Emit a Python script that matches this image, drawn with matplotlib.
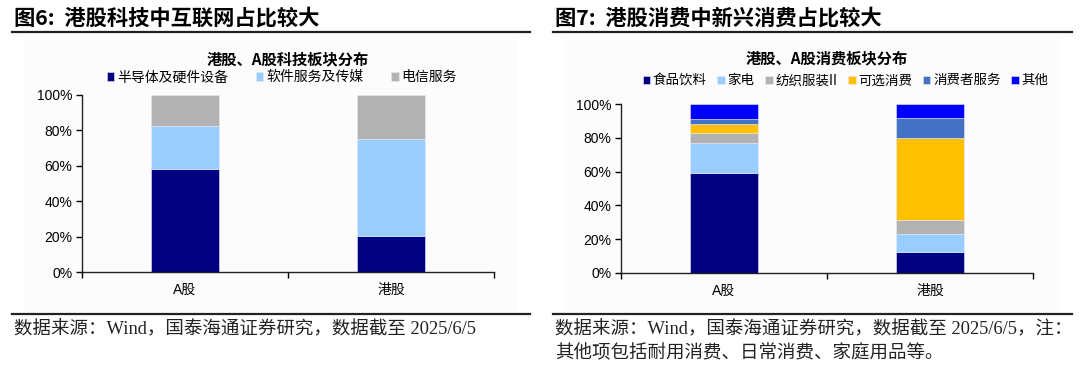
import numpy as np
import matplotlib
matplotlib.use("Agg")
import matplotlib.pyplot as plt
from matplotlib.lines import Line2D
from matplotlib.patches import Rectangle

plt.rcParams['font.family'] = ['Noto Sans CJK SC', 'DejaVu Sans']

# ---- data ----
categories = ["A股", "港股"]

tech_labels = ["半导体及硬件设备", "软件服务及传媒", "电信服务"]
tech_semi = [58.4, 20.5]
tech_soft = [24.1, 54.6]
tech_tele = [17.5, 24.9]
tech_colors = ["#000080", "#99CCFF", "#B2B2B2"]

cons_labels = ["食品饮料", "家电", "纺织服装II", "可选消费", "消费者服务", "其他"]
cons_food = [59.0, 12.6]
cons_appl = [18.2, 10.6]
cons_text = [5.9, 8.3]
cons_disc = [4.9, 48.2]
cons_serv = [3.1, 12.0]
cons_other = [8.9, 8.3]
cons_colors = ["#000080", "#99CCFF", "#B2B2B2", "#FFC000", "#4472C4", "#0000FF"]

W, H = 1080, 368
fig = plt.figure(figsize=(W / 100, H / 100), dpi=100)

def px_axes(l, t, r, b):
    return fig.add_axes([l / W, 1 - b / H, (r - l) / W, (b - t) / H])

def fx(x):
    return x / W

def fy(y):
    return 1 - y / H

LAT = ['Liberation Sans', 'Noto Sans CJK SC']
SERIF = ['Liberation Serif', 'Noto Sans CJK SC']

def stacked(ax, series, labels, colors, title, legend_pos, colspace, legsize):
    x = np.arange(len(categories))
    bottom = np.zeros(len(categories))
    for vals, lab, col in zip(series, labels, colors):
        ax.bar(x, vals, width=0.33, bottom=bottom, color=col, label=lab,
               edgecolor="#E8E8F8", linewidth=0.4)
        bottom += np.array(vals)
    ax.set_xlim(-0.5, 1.5)
    ax.set_ylim(0, 100)
    ax.set_yticks([0, 20, 40, 60, 80, 100])
    ax.set_yticklabels([f"{v}%" for v in [0, 20, 40, 60, 80, 100]], family=LAT, fontsize=10)
    ax.set_xticks(x)
    ax.set_xticklabels(categories, family=LAT, fontsize=10)
    ax.set_xticks([-0.5, 0.5, 1.5], minor=True)
    ax.tick_params(axis='x', which='major', length=0, pad=8)
    ax.tick_params(axis='x', which='minor', length=4, direction='out', width=1)
    ax.tick_params(axis='y', length=4, direction='out', width=1, pad=3)
    for s in ("top", "right"):
        ax.spines[s].set_visible(False)
    for s in ("left", "bottom"):
        ax.spines[s].set_linewidth(1.0)
        ax.spines[s].set_color("#222222")
    ax.set_facecolor("none")
    tx, ty, lx, ly = legend_pos
    ax.text(tx, ty, title, transform=ax.transAxes, ha="center", va="center",
            fontsize=11, fontweight="bold")
    ax.legend(loc="center", bbox_to_anchor=(lx, ly), ncol=len(labels), frameon=False,
              fontsize=legsize, handlelength=0.55, handleheight=0.55, handletextpad=0.2,
              columnspacing=colspace, borderaxespad=0)

# chart background panels (behind the axes)
for l, r in [(24, 518), (565, 1060)]:
    fig.patches.append(Rectangle((fx(l), fy(311)), (r - l) / W, (311 - 37) / H,
                                 transform=fig.transFigure, facecolor="#FCFCFC",
                                 edgecolor="none", zorder=-5))

ax1 = px_axes(82, 95, 494, 272)
stacked(ax1, [tech_semi, tech_soft, tech_tele], tech_labels, tech_colors,
        "港股、A股科技板块分布", (0.5, 1.20, 0.485, 1.10), 2.0, 10)

ax2 = px_axes(621, 104, 1033, 273)
stacked(ax2, [cons_food, cons_appl, cons_text, cons_disc, cons_serv, cons_other],
        cons_labels, cons_colors, "港股、A股消费板块分布", (0.5, 1.27, 0.545, 1.14), 0.8, 9.7)

# headings
fig.text(fx(14), fy(18), "图6:  港股科技中互联网占比较大", fontsize=15.3, fontweight="bold",
         ha="left", va="center")
fig.text(fx(555), fy(18), "图7:  港股消费中新兴消费占比较大", fontsize=15.3, fontweight="bold",
         ha="left", va="center")

# rules
for x0, x1 in [(12, 530), (553, 1072)]:
    fig.add_artist(Line2D([fx(x0), fx(x1)], [fy(32), fy(32)], color="#222222", lw=1.6))
    fig.add_artist(Line2D([fx(x0), fx(x1)], [fy(314), fy(314)], color="#222222", lw=1.6))

# footnotes
fig.text(fx(14), fy(330), "数据来源：Wind，国泰海通证券研究，数据截至 2025/6/5",
         family=SERIF, fontsize=13.3, ha="left", va="center", color="#222222")
fig.text(fx(555), fy(330), "数据来源：Wind，国泰海通证券研究，数据截至 2025/6/5，注：",
         family=SERIF, fontsize=13.3, ha="left", va="center", color="#222222")
fig.text(fx(555), fy(353), "其他项包括耐用消费、日常消费、家庭用品等。",
         family=SERIF, fontsize=13.3, ha="left", va="center", color="#222222")

fig.savefig("out.png", dpi=100)
